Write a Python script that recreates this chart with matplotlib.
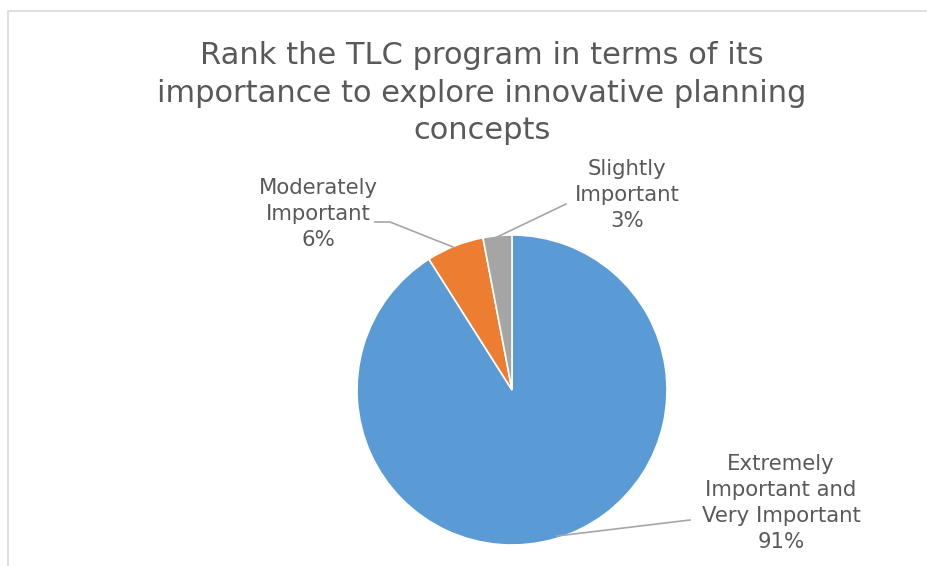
import matplotlib.pyplot as plt

labels = ['Extremely\nImportant and\nVery Important', 'Moderately\nImportant', 'Slightly\nImportant']
values = [91, 6, 3]
colors = ['#5B9BD5', '#ED7D31', '#A5A5A5']
title = 'Rank the TLC program in terms of its\nimportance to explore innovative planning\nconcepts'

W, H = 928, 566
fig = plt.figure(figsize=(W / 100, H / 100), dpi=100)
ax = fig.add_axes([0, 0, 1, 1])

cx, cy, r = 512, H - 390, 155
ax.pie(values, colors=colors, startangle=90, counterclock=False,
       center=(cx, cy), radius=r,
       wedgeprops=dict(edgecolor='white', linewidth=1.2))
ax.set_xlim(0, W)
ax.set_ylim(0, H)
ax.set_aspect('equal')
ax.axis('off')

# chart area border (cut off on the right and bottom)
ax.plot([8, 8, W], [0, H - 11, H - 11], color='#D9D9D9', lw=1.2, clip_on=False)

txt = '#595959'
ax.text(482, H - 93, title, ha='center', va='center', fontsize=22,
        color=txt, linespacing=1.36)

# data labels: (text centre, leader points)
label_pos = [((781, H - 503), [(690, H - 520), (557, H - 536)]),
             ((318, H - 214), [(375, H - 222), (390, H - 222), (453, H - 247)]),
             ((627, H - 195), [(566, H - 204), (495, H - 238)])]
for lab, v, (pos, leader) in zip(labels, values, label_pos):
    ax.text(pos[0], pos[1], f'{lab}\n{v}%', ha='center', va='center',
            fontsize=15.3, color=txt, linespacing=1.36)
    xs, ys = zip(*leader)
    ax.plot(xs, ys, color='#A6A6A6', lw=1.2)

fig.savefig('out.png', dpi=100)
